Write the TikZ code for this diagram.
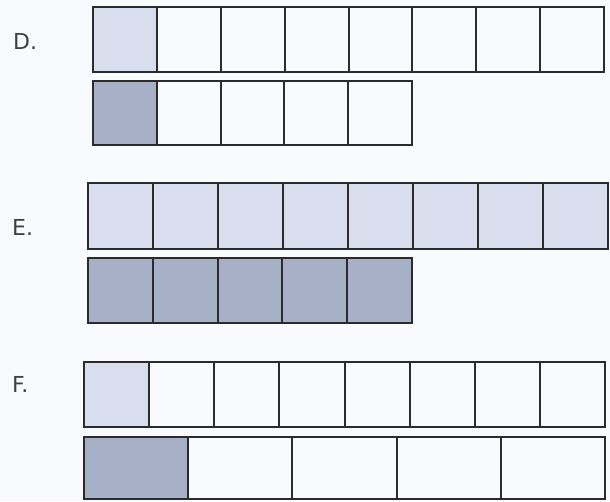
\documentclass[tikz,border=0pt]{standalone}
\usepackage{fontspec}
\setmainfont{DejaVu Sans}
\usetikzlibrary{positioning}
\definecolor{pagebg}{HTML}{F8FAFD}
\definecolor{lightcell}{HTML}{D9DEEE}
\definecolor{darkcell}{HTML}{A6B0C6}
\definecolor{gridline}{HTML}{2B2B2B}
\tikzset{
  divider/.style={draw=gridline, line width=2pt},
  rowframe/.style={draw=gridline, line width=2.6pt},
  rowlabel/.style={font=\fontsize{22}{22}\selectfont, anchor=west, text=black!75, inner sep=0pt}
}

\begin{document}
\begin{tikzpicture}[x=1pt,y=-1pt]
\fill[pagebg] (0,0) rectangle (610,501);
\useasboundingbox (0,0) rectangle (610,501);

% labels
\node[rowlabel] (labD) at (13,41) {D.};
\node[rowlabel] (labE) at (12,227) {E.};
\node[rowlabel] (labF) at (12,384) {F.};

% rows: left/top/right/bottom/cells/shaded/colour
\foreach \xa/\ya/\xb/\yb/\n/\k/\col in {
    93/7/604/72/8/1/lightcell,
    93/81/412/145/5/1/darkcell,
    88/183/608/249/8/8/lightcell,
    88/258/412/323/5/5/darkcell,
    84/362/605/427/8/1/lightcell,
    84/437/605/499/5/1/darkcell}{
  \pgfmathsetmacro{\w}{(\xb-\xa)/\n}
  \pgfmathtruncatemacro{\last}{\n-1}
  \fill[\col] (\xa,\ya) rectangle ({\xa+\k*\w},\yb);
  \foreach \j in {1,...,\last}
    \draw[divider] ({\xa+\j*\w},\ya) -- ({\xa+\j*\w},\yb);
  \draw[rowframe] (\xa,\ya) rectangle (\xb,\yb);
}
\end{tikzpicture}
\end{document}
